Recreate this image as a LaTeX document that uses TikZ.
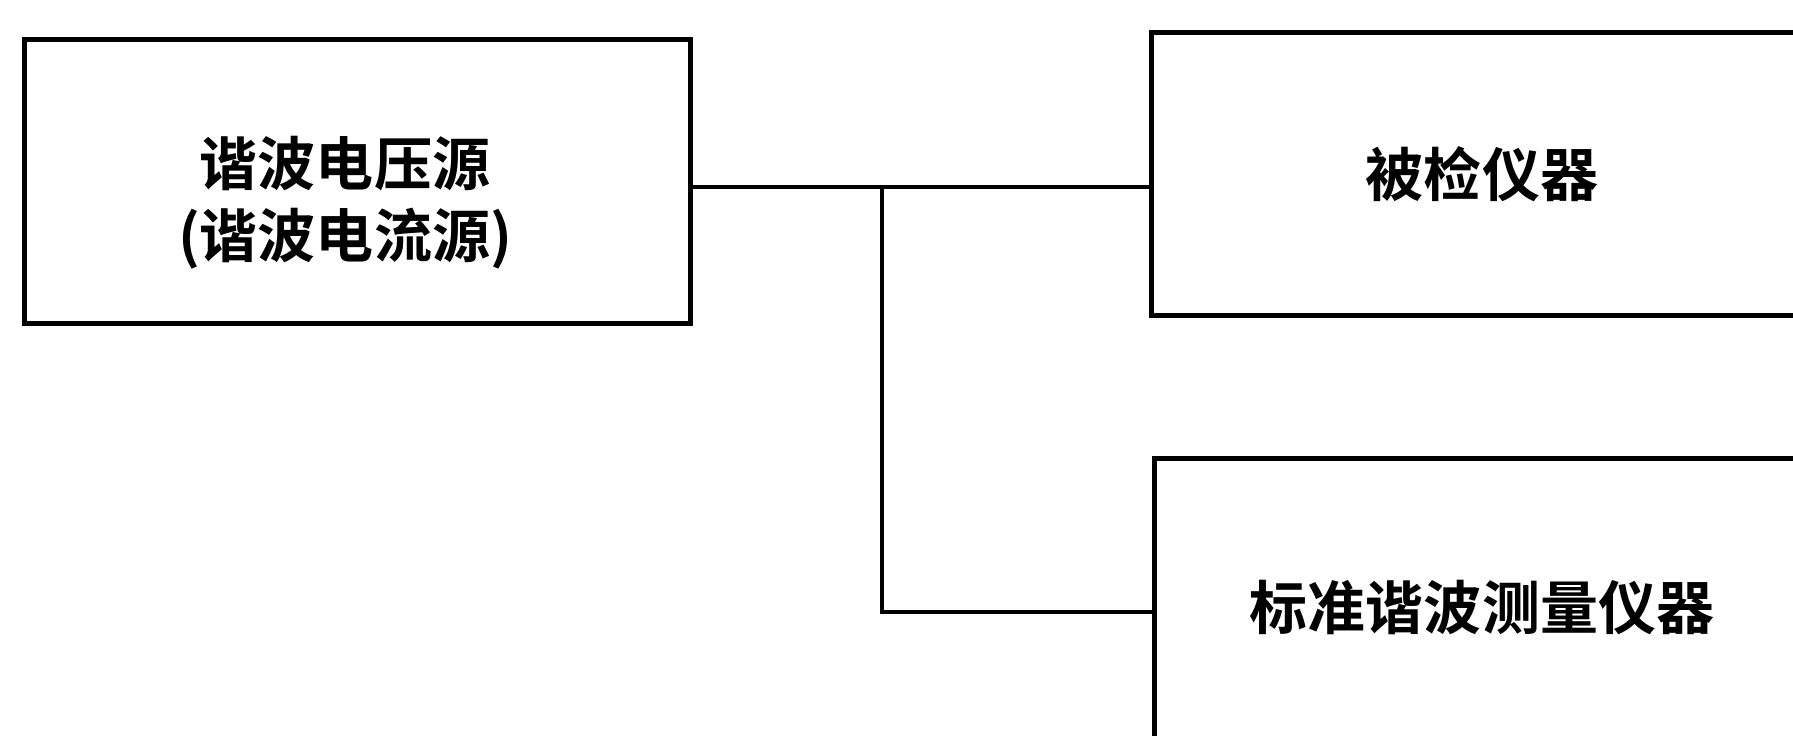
\documentclass[tikz,border=0pt]{standalone}
\usepackage{fontspec}
\newfontfamily\cjk{Noto Sans CJK SC Bold}
\tikzset{
  box/.style={draw=black, line width=1.4pt, inner sep=0pt, fill=white},
  wire/.style={draw=black, line width=1.1pt},
  lbl/.style={font=\cjk\fontsize{16.5pt}{20.5pt}\selectfont, align=center, inner sep=0pt}
}
\begin{document}
\begin{tikzpicture}[x=0.01cm, y=-0.01cm]
\useasboundingbox (0,0) rectangle (1793,736);
\fill[white] (0,0) rectangle (1793,736);
% boxes
\node[box, minimum width=6.65cm, minimum height=2.83cm] (src) at (357.5,181.5) {};
\node[box, minimum width=6.62cm, minimum height=2.82cm] (dut) at (1483,174) {};
\node[box, minimum width=6.60cm, minimum height=3.06cm] (std) at (1485,612) {};
% labels
\node[lbl] (srct) at (345,203) {谐波电压源\\(谐波电流源)};
\node[lbl] (dutt) at (1482,174) {被检仪器};
\node[lbl] (stdt) at (1482,608) {标准谐波测量仪器};
% connectors
\coordinate (j) at (882,187);
\draw[wire] (src.east |- j) -- (j) -- (dut.west |- j);
\draw[wire] (j) |- (std.west);
\end{tikzpicture}
\end{document}
